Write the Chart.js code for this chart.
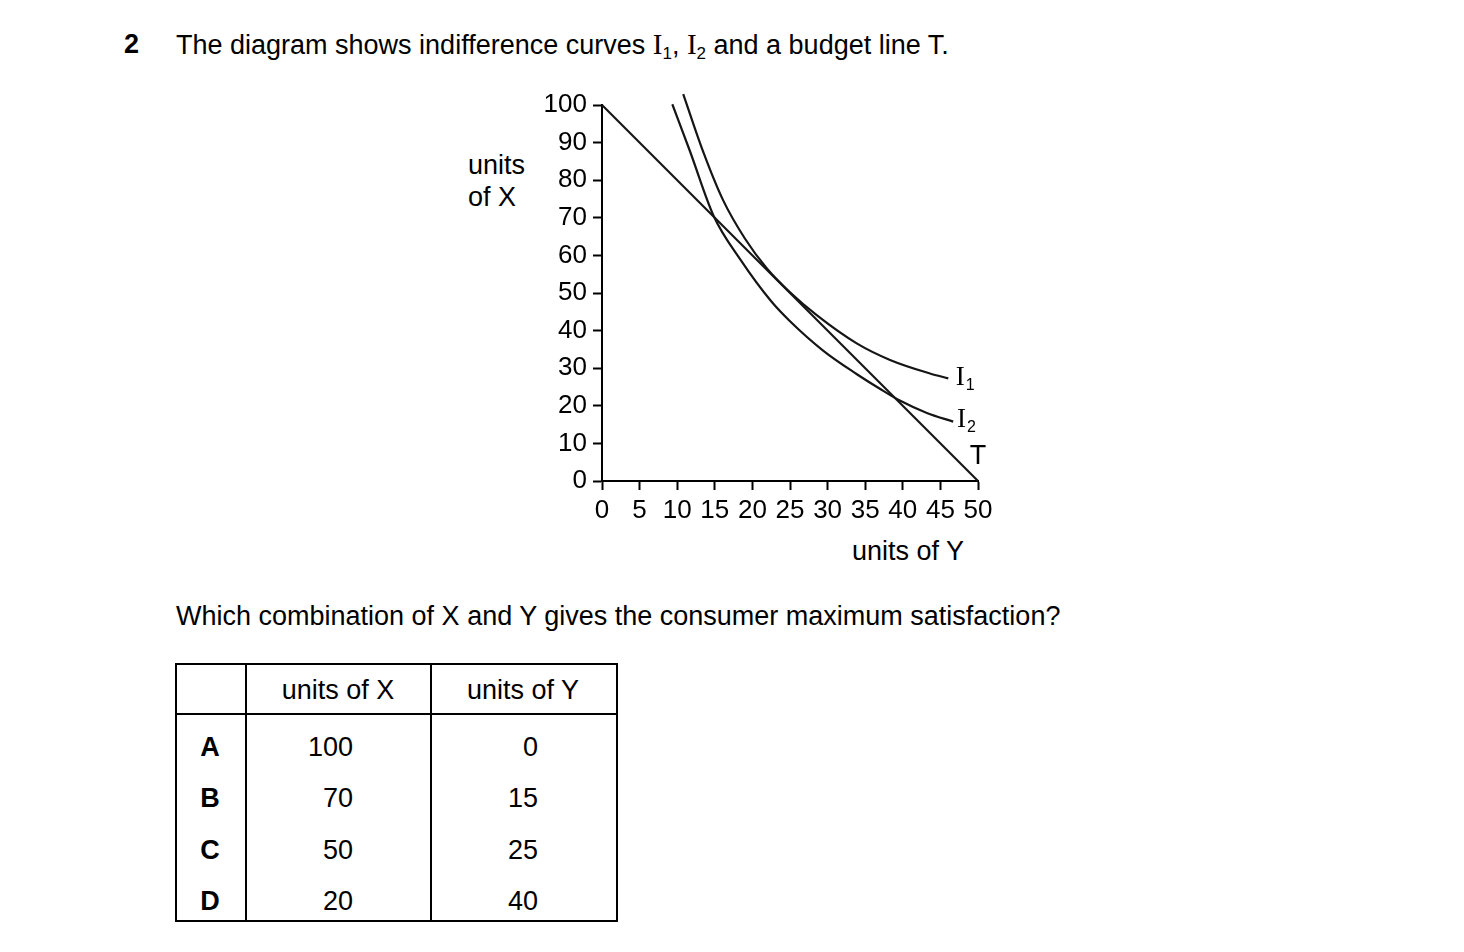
<!DOCTYPE html>
<html><head><meta charset="utf-8">
<script src="https://cdn.jsdelivr.net/npm/chart.js@4.4.1/dist/chart.umd.min.js"></script>
<style>
html,body{margin:0;padding:0;background:#fff;}
body{width:1464px;height:952px;position:relative;overflow:hidden;font-family:"Liberation Sans",Arial,sans-serif;color:#000;}
.t{position:absolute;font-size:27px;line-height:27px;white-space:nowrap;}
.b{font-weight:bold;}
.serif{font-family:"Liberation Serif","Times New Roman",serif;font-size:29px;}
sub{font-size:17px;line-height:0;vertical-align:-5px;}
#wrap{position:absolute;left:500px;top:60px;width:540px;height:540px;}
.ln{position:absolute;background:#000;}
.r{text-align:right;}
.c{text-align:center;}
</style></head><body>

<div class="t b" style="left:124px;top:31px;">2</div>
<div class="t" style="left:176px;top:31px;">The diagram shows indifference curves <span class="serif">I</span><sub>1</sub>, <span class="serif">I</span><sub>2</sub> and a budget line T.</div>

<div class="t" style="left:468px;top:152px;">units</div>
<div class="t" style="left:468px;top:184px;">of X</div>
<div class="t" style="left:852px;top:538px;">units of Y</div>

<div id="wrap"><canvas id="c" width="540" height="540"></canvas></div>

<div class="t" style="left:176px;top:603px;">Which combination of X and Y gives the consumer maximum satisfaction?</div>

<div id="table"></div>

<script>
// ---- data ----
const xTicks = [0, 5, 10, 15, 20, 25, 30, 35, 40, 45, 50];
const yTicks = [0, 10, 20, 30, 40, 50, 60, 70, 80, 90, 100];
const budgetX = [0, 50];
const budgetY = [100, 0];
const i1X = [10.8, 13.45, 16.1, 19.0, 21.9, 25.0, 28.55, 33.87, 38.3, 43.6, 46.05];
const i1Y = [102.9, 87.6, 74.7, 64.5, 56.6, 50.2, 44.1, 36.6, 32.2, 28.6, 27.3];
const i2X = [9.35, 11.7, 14.8, 18.5, 22.5, 25.0, 29.4, 33.9, 36.9, 39.6, 43.2, 46.7];
const i2Y = [100.2, 87.7, 70.7, 58.6, 47.8, 42.5, 34.7, 28.4, 24.6, 21.4, 18.1, 15.8];
const curveLabelMain = ['I', 'I', 'T'];
const curveLabelSub = ['1', '2', ''];
const curveLabelX = [47.05, 47.2, 48.9];
const curveLabelY = [27.4, 16.2, 6.5];
const tableRows = ['A', 'B', 'C', 'D'];
const tableX = [100, 70, 50, 20];
const tableY = [0, 15, 25, 40];
const tableHead = ['units of X', 'units of Y'];

// ---- table ----
(function(){
  const t = document.getElementById('table');
  let h = '';
  const L = 176, T = 664, R = 617, B = 921;
  h += `<div class="ln" style="left:${L-1}px;top:${T-1}px;width:${R-L+2}px;height:2px"></div>`;
  h += `<div class="ln" style="left:${L-1}px;top:${B-1}px;width:${R-L+2}px;height:2px"></div>`;
  h += `<div class="ln" style="left:${L-1}px;top:${T-1}px;width:2px;height:${B-T+2}px"></div>`;
  h += `<div class="ln" style="left:${R-1}px;top:${T-1}px;width:2px;height:${B-T+2}px"></div>`;
  h += `<div class="ln" style="left:245px;top:${T-1}px;width:2px;height:${B-T+2}px"></div>`;
  h += `<div class="ln" style="left:430px;top:${T-1}px;width:2px;height:${B-T+2}px"></div>`;
  h += `<div class="ln" style="left:${L-1}px;top:713px;width:${R-L+2}px;height:2px"></div>`;
  h += `<div class="t c" style="left:238px;width:200px;top:677px;">${tableHead[0]}</div>`;
  h += `<div class="t c" style="left:423px;width:200px;top:677px;">${tableHead[1]}</div>`;
  const rowC = [747, 798, 850, 901];
  tableRows.forEach((r, i) => {
    const top = rowC[i] - 13;
    h += `<div class="t b c" style="left:180px;width:60px;top:${top}px;">${r}</div>`;
    h += `<div class="t r" style="left:253px;width:100px;top:${top}px;">${tableX[i]}</div>`;
    h += `<div class="t r" style="left:438px;width:100px;top:${top}px;">${tableY[i]}</div>`;
  });
  t.innerHTML = h;
})();

// ---- chart ----
const pts = (xs, ys) => xs.map((x, i) => ({x: x, y: ys[i]}));
const lineCol = '#151515';

const labelPlugin = {
  id: 'curveLabels',
  afterDatasetsDraw(chart) {
    const ctx = chart.ctx, xs = chart.scales.x, ys = chart.scales.y;
    ctx.save();
    ctx.fillStyle = '#000';
    ctx.textBaseline = 'middle';
    ctx.textAlign = 'left';
    curveLabelMain.forEach((m, i) => {
      const px = xs.getPixelForValue(curveLabelX[i]);
      const py = ys.getPixelForValue(curveLabelY[i]);
      if (curveLabelSub[i]) {
        ctx.font = '27px "Liberation Serif", serif';
        ctx.fillText(m, px, py);
        const w = ctx.measureText(m).width;
        ctx.font = '16px "Liberation Sans", sans-serif';
        ctx.fillText(curveLabelSub[i], px + w + 1, py + 8);
      } else {
        ctx.font = '27px "Liberation Sans", sans-serif';
        ctx.fillText(m, px, py);
      }
    });
    ctx.restore();
  }
};

const axisCommon = {
  type: 'linear',
  grid: {display: true, drawOnChartArea: false, drawTicks: true, tickLength: 9, tickWidth: 2, tickColor: '#000'},
  border: {display: true, color: '#000', width: 2},
};

new Chart(document.getElementById('c'), {
  type: 'scatter',
  data: {
    datasets: [
      {data: pts(budgetX, budgetY), showLine: true, borderColor: lineCol, borderWidth: 2.2, pointRadius: 0, fill: false, clip: false},
      {data: pts(i1X, i1Y), showLine: true, borderColor: lineCol, borderWidth: 2.2, pointRadius: 0, fill: false, clip: false, cubicInterpolationMode: 'monotone'},
      {data: pts(i2X, i2Y), showLine: true, borderColor: lineCol, borderWidth: 2.2, pointRadius: 0, fill: false, clip: false, cubicInterpolationMode: 'monotone'}
    ]
  },
  options: {
    responsive: false,
    animation: false,
    devicePixelRatio: 1,
    layout: {padding: {left: 0, top: 45, right: 62, bottom: 0}},
    plugins: {legend: {display: false}, tooltip: {enabled: false}},
    scales: {
      x: Object.assign({}, axisCommon, {
        min: 0, max: 50,
        afterBuildTicks: s => { s.ticks = xTicks.map(v => ({value: v})); },
        afterFit: s => { s.height = 119; },
        ticks: {color: '#000', font: {family: '"Liberation Sans", Arial, sans-serif', size: 26}, padding: 5, maxRotation: 0, autoSkip: false}
      }),
      y: Object.assign({}, axisCommon, {
        min: 0, max: 100,
        afterBuildTicks: s => { s.ticks = yTicks.map(v => ({value: v})); },
        afterFit: s => { s.width = 102; },
        ticks: {color: '#000', font: {family: '"Liberation Sans", Arial, sans-serif', size: 26}, padding: 6, autoSkip: false}
      })
    }
  },
  plugins: [labelPlugin]
});
</script>
</body></html>
